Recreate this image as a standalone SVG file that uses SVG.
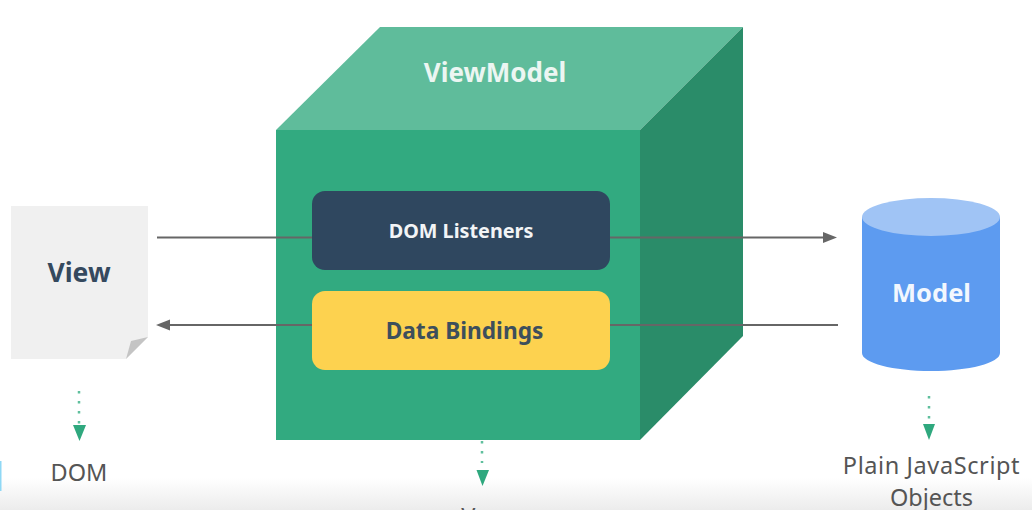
<svg xmlns="http://www.w3.org/2000/svg" width="1032" height="510" viewBox="0 0 1032 510">
<defs>
<linearGradient id="fade" x1="0" y1="0" x2="0" y2="1"><stop offset="0" stop-color="#ffffff"/><stop offset="1" stop-color="#ececec"/></linearGradient>
<style>
text{font-family:"Noto Sans","Open Sans","Liberation Sans",sans-serif;text-anchor:middle}
.b{font-weight:700}
.l{fill:#555;font-size:23.500px}
.c{fill:none;stroke:#666;stroke-width:2}
.d{fill:none;stroke:#5fbf9d;stroke-width:2.500;stroke-dasharray:2.500 7.500}
.h{fill:#2fa87e}
.a{fill:#666}
</style>
</defs>
<rect width="1032" height="510" fill="#fff"/>
<rect y="478" width="1032" height="32" fill="url(#fade)"/>
<rect y="461" width="1.500" height="30" fill="#8fd8f5"/>
<g id="viewmodel">
<path d="M276 130L380 27H743L640 130Z" fill="#5fbc9b"/>
<path d="M640 130L743 27V336L640 440Z" fill="#2a8c69"/>
<rect x="276" y="130" width="364" height="310" fill="#32aa80"/>
<text class="b" x="495" y="82" font-size="26" fill="#ecf6f2">ViewModel</text>
</g>
<g id="connectors">
<path class="c" d="M157 237.500H312"/>
<path class="c" d="M610 237.500H823"/>
<path class="a" d="M823 232L837 237.500L823 243Z"/>
<path class="c" d="M838 325H610"/>
<path class="c" d="M312 325H170"/>
<path class="a" d="M170 319.500L156 325L170 330.500Z"/>
<path class="d" d="M79 391V424"/>
<path class="h" d="M73 425H86L79.500 441Z"/>
<path class="d" d="M482 441V463"/>
<path class="h" d="M476.500 470H489L482.500 486Z"/>
<path class="d" d="M929 396V421"/>
<path class="h" d="M923 424H935L929 440Z"/>
</g>
<g id="dom-listeners">
<rect x="312" y="191" width="298" height="79" rx="13" fill="#2f475f"/>
<text class="b" x="461" y="238" font-size="19.800" fill="#f2f4f6">DOM Listeners</text>
</g>
<g id="data-bindings">
<rect x="312" y="291" width="298" height="79" rx="13" fill="#fdd24f"/>
<text class="b" x="464.500" y="339" font-size="22.700" fill="#3d4f5c">Data Bindings</text>
</g>
<g id="view">
<path d="M11 206H148V337L126 359H11Z" fill="#f0f0f0"/>
<path d="M126 359L131 341L148 337Z" fill="#c4c4c4"/>
<text class="b" x="79" y="282" font-size="26.500" fill="#35495e">View</text>
</g>
<g id="model">
<path d="M862 217V353C862 363 893 371 931 371C969 371 1000 363 1000 353V217Z" fill="#5d9bf0"/>
<ellipse cx="931" cy="217" rx="69" ry="19" fill="#a0c4f5"/>
<text class="b" x="931.500" y="302" font-size="25.500" fill="#f2f7fe">Model</text>
</g>
<g id="labels">
<text class="l" x="79" y="481">DOM</text>
<text class="l" x="931.500" y="474" letter-spacing="0.600" font-size="24">Plain JavaScript</text>
<text class="l" x="931.500" y="506">Objects</text>
<text class="l" x="482" y="525">Vue</text>
</g>
</svg>
